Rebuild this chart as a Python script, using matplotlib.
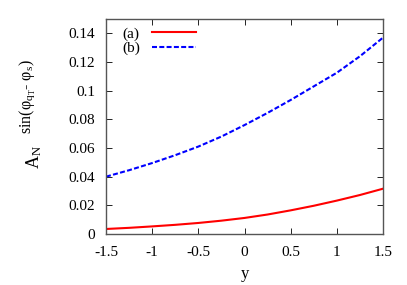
import matplotlib
matplotlib.use("Agg")
import matplotlib.pyplot as plt

y_vals = [-1.5, -1.25, -1.0, -0.75, -0.5, -0.25, 0.0, 0.25, 0.5, 0.75, 1.0, 1.25, 1.5]
series_a = [0.0035, 0.0043, 0.0053, 0.0064, 0.0077, 0.0093, 0.0112, 0.0136, 0.0165, 0.0197, 0.0233, 0.0272, 0.0316]
series_b = [0.040, 0.0445, 0.0495, 0.055, 0.061, 0.068, 0.076, 0.0845, 0.0935, 0.103, 0.1125, 0.124, 0.137]
xticks = [-1.5, -1, -0.5, 0, 0.5, 1, 1.5]
xticklabels = ["-1.5", "-1", "-0.5", "0", "0.5", "1", "1.5"]
yticks = [0, 0.02, 0.04, 0.06, 0.08, 0.1, 0.12, 0.14]
yticklabels = ["0", "0.02", "0.04", "0.06", "0.08", "0.1", "0.12", "0.14"]

plt.rcParams['font.family'] = ['Liberation Serif', 'DejaVu Serif']
plt.rcParams['mathtext.fontset'] = 'custom'
plt.rcParams['mathtext.rm'] = 'Liberation Serif'
plt.rcParams['mathtext.it'] = 'Liberation Serif:italic'

fig = plt.figure(figsize=(4.07, 2.85), dpi=100)
ax = fig.add_axes([106/407, 51/285, 277/407, 215/285])

ax.plot(y_vals, series_a, color='#ff0000', lw=1.5, label='(a)')
ax.plot(y_vals, series_b, color='#0000ff', lw=1.5, ls=(0, (2.4, 1.1)), label='(b)')

ax.set_xlim(-1.5, 1.5)
ax.set_ylim(0, 0.15)
ax.set_xticks(xticks)
ax.set_xticklabels(xticklabels)
ax.set_yticks(yticks)
ax.set_yticklabels(yticklabels)
ax.tick_params(direction='in', length=4, width=0.6, labelsize=11, top=True, right=True, colors='black')
ax.tick_params(axis='x', pad=9)
ax.tick_params(axis='y', pad=8)
for s in ax.spines.values():
    s.set_color('#555555')
    s.set_linewidth(1.0)

ax.set_xlabel('y', fontsize=12, labelpad=5)

# y label: main symbol plus full-size superscript
fig.text(34/407, 1 - 157/285, r'A$_\mathrm{N}$', rotation=90, ha='center', va='center', fontsize=13)
fig.text(27.5/407, 1 - 97/285, r'sin(φ$_{\mathrm{q}_\mathrm{T}}$- φ$_\mathrm{s}$)',
         rotation=90, ha='center', va='center', fontsize=11.5)

leg = ax.legend(loc='upper left', bbox_to_anchor=(0.03, 1.0), frameon=False, markerfirst=False,
                fontsize=11, handlelength=2.9, handletextpad=0.8, labelspacing=0.05, borderaxespad=0.1)

fig.savefig('out.png', dpi=100)
